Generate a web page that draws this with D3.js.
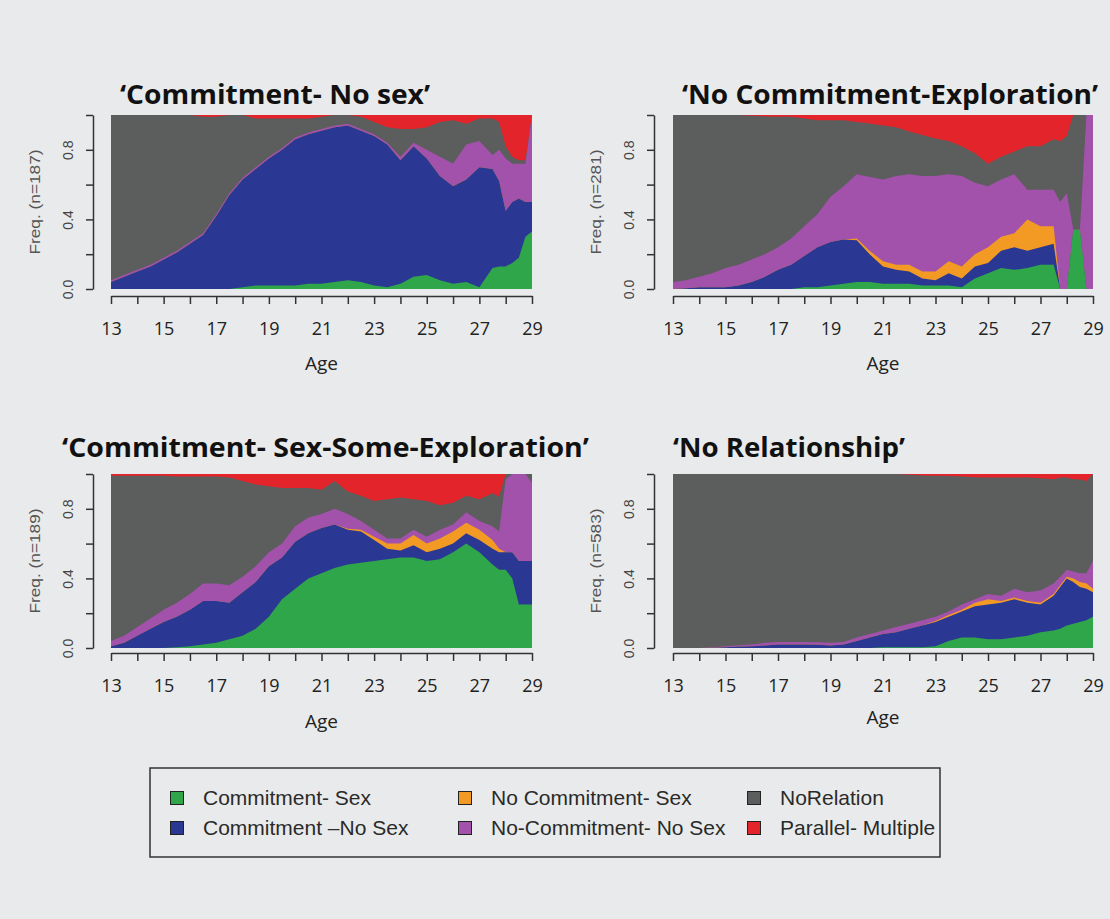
<!DOCTYPE html>
<html><head><meta charset="utf-8">
<script src="https://cdn.jsdelivr.net/npm/d3@7"></script>
<style>
html,body{margin:0;padding:0;background:#e9eaeb;}
svg{display:block;}
</style></head><body>
<svg id="chart" width="1110" height="919"></svg>
<script>
// ---------- data ----------
const ages = [13,13.5,14,14.5,15,15.5,16,16.5,17,17.5,18,18.5,19,19.5,20,20.5,21,21.5,22,22.5,23,23.5,24,24.5,25,25.5,26,26.5,27,27.5,27.75,28,28.25,28.5,28.75,29];
const states = ["Commitment- Sex","Commitment \u2013No Sex","No Commitment- Sex","No-Commitment- No Sex","NoRelation","Parallel- Multiple"];
const colors = ["#30a64a","#2a3893","#f39a25","#a252ab","#5c5d5d","#e3242b"];
const xTicks = [13,14,15,16,17,18,19,20,21,22,23,24,25,26,27,28,29];
const xLabels = [13,15,17,19,21,23,25,27,29];
const yTicks = [0,0.2,0.4,0.6,0.8,1];
const yLabels = ["0.0","0.4","0.8"];
const titles = ["\u2018Commitment- No sex\u2019","\u2018No Commitment-Exploration\u2019","\u2018Commitment- Sex-Some-Exploration\u2019","\u2018No Relationship\u2019"];
const yTitles = ["Freq. (n=187)","Freq. (n=281)","Freq. (n=189)","Freq. (n=583)"];

// Panel 1: 'Commitment- No sex'
const p1Green  = [0,0,0,0,0,0,0,0,0,0,.01,.02,.02,.02,.02,.03,.03,.04,.05,.04,.02,.01,.03,.07,.08,.05,.03,.04,.01,.12,.13,.13,.15,.18,.30,.33];
const p1Blue   = [.04,.07,.10,.13,.17,.21,.26,.31,.42,.54,.62,.67,.73,.78,.84,.86,.88,.89,.89,.87,.86,.82,.71,.75,.67,.60,.56,.59,.69,.57,.49,.32,.35,.34,.20,.17];
const p1Orange = [0,0,0,0,0,0,0,0,0,0,0,0,0,0,0,0,0,0,0,0,0,0,0,0,0,0,0,0,0,0,0,0,0,0,0,0];
const p1Purple = [.01,.01,.01,.01,.01,.01,.01,.01,.01,.01,.01,.01,.01,.01,.01,.01,.01,.01,.01,.01,.01,.01,.02,.02,.05,.11,.13,.20,.15,.08,.18,.30,.22,.20,.22,.50];
const p1Gray   = [.95,.92,.89,.86,.82,.78,.73,.67,.56,.45,.36,.28,.22,.17,.11,.08,.07,.06,.05,.07,.07,.09,.16,.08,.13,.20,.25,.12,.13,.21,.16,.07,.04,.02,.02,0];
const p1Red    = [0,0,0,0,0,0,0,.01,.01,0,0,.02,.02,.02,.02,.02,.01,0,0,.01,.04,.07,.08,.08,.07,.04,.03,.05,.02,.02,.04,.18,.24,.26,.26,0];

// Panel 2: 'No Commitment-Exploration'
const p2Green  = [0,0,0,0,0,0,0,0,0,0,.01,.01,.02,.03,.04,.04,.03,.03,.03,.02,.02,.02,.01,.06,.09,.12,.11,.12,.14,.14,0,0,.34,.34,0,0];
const p2Blue   = [0,.005,.01,.01,.01,.02,.04,.07,.11,.14,.18,.23,.25,.255,.24,.16,.10,.08,.07,.04,.03,.07,.05,.07,.06,.10,.13,.10,.10,.12,0,0,0,0,0,0];
const p2Orange = [0,0,0,0,0,0,0,0,0,0,0,0,0,0,.01,.02,.03,.03,.04,.04,.05,.07,.07,.07,.09,.08,.08,.18,.12,.10,0,0,0,0,0,0];
const p2Purple = [.04,.045,.06,.08,.11,.12,.13,.13,.13,.15,.17,.19,.26,.305,.37,.43,.47,.51,.52,.55,.55,.50,.52,.41,.35,.33,.34,.17,.21,.21,.50,.55,0,0,1,1];
const p2Gray   = [.96,.95,.93,.91,.88,.86,.825,.79,.75,.70,.62,.54,.44,.38,.30,.31,.31,.28,.245,.235,.215,.19,.17,.17,.13,.13,.13,.25,.25,.29,.35,.33,.66,.66,0,0];
const p2Red    = [0,0,0,0,0,0,.005,.008,.01,.01,.02,.03,.03,.03,.04,.05,.06,.07,.095,.115,.135,.15,.18,.22,.28,.24,.21,.18,.18,.14,.15,.12,0,0,0,0];

// Panel 3: 'Commitment- Sex-Some-Exploration'
const p3Green  = [0,0,0,0,0,.005,.01,.02,.03,.05,.07,.11,.18,.28,.34,.40,.43,.46,.48,.49,.50,.51,.52,.52,.50,.51,.55,.60,.55,.48,.45,.45,.40,.25,.25,.25];
const p3Blue   = [.01,.03,.07,.11,.15,.175,.21,.25,.24,.21,.25,.27,.29,.24,.27,.26,.26,.25,.20,.18,.12,.06,.04,.07,.05,.06,.05,.06,.07,.09,.10,.10,.15,.25,.25,.25];
const p3Orange = [0,0,0,0,0,0,0,0,0,0,0,0,0,0,0,0,0,0,.005,.01,.02,.03,.04,.06,.05,.06,.07,.06,.06,.05,.02,0,0,0,0,0];
const p3Purple = [.03,.04,.05,.06,.07,.08,.09,.10,.10,.10,.09,.09,.08,.08,.09,.09,.08,.09,.085,.05,.04,.03,.03,.03,.04,.05,.04,.06,.05,.08,.10,.42,.45,.50,.50,.45];
const p3Gray   = [.95,.92,.87,.82,.77,.725,.675,.615,.615,.62,.55,.47,.38,.32,.22,.17,.14,.16,.13,.145,.165,.225,.235,.175,.205,.14,.125,.095,.125,.19,.20,.03,0,0,0,.05];
const p3Red    = [.01,.01,.01,.01,.01,.015,.015,.015,.015,.02,.04,.06,.07,.08,.08,.08,.09,.04,.10,.125,.155,.145,.135,.145,.155,.18,.165,.125,.145,.11,.13,0,0,0,0,0];

// Panel 4: 'No Relationship'
const p4Green  = [0,0,0,0,0,0,0,0,0,0,0,0,0,0,0,0,.005,.005,.005,.005,.01,.04,.06,.06,.05,.05,.06,.07,.09,.10,.11,.13,.14,.15,.16,.18];
const p4Blue   = [0,0,0,.002,.005,.008,.01,.015,.02,.02,.02,.018,.015,.02,.04,.06,.075,.085,.105,.125,.14,.14,.15,.18,.20,.21,.22,.19,.16,.20,.24,.27,.24,.20,.18,.14];
const p4Orange = [0,0,0,0,0,0,0,0,0,0,0,0,0,0,0,0,0,0,0,0,.005,.01,.01,.02,.03,.01,.01,.01,.01,.01,.01,.01,.02,.03,.03,.02];
const p4Purple = [0,0,0,.003,.005,.008,.01,.015,.015,.015,.015,.015,.015,.015,.02,.02,.02,.03,.03,.03,.025,.02,.03,.02,.03,.03,.05,.05,.07,.06,.05,.04,.04,.05,.06,.16];
const p4Gray   = [1,1,1,.995,.99,.984,.98,.97,.965,.965,.965,.967,.97,.965,.94,.92,.90,.88,.855,.832,.81,.778,.735,.702,.67,.68,.64,.66,.645,.60,.57,.53,.53,.54,.53,.50];
const p4Red    = [0,0,0,0,0,0,0,0,0,0,0,0,0,0,0,0,0,0,.005,.008,.01,.012,.015,.018,.02,.02,.02,.02,.025,.03,.02,.02,.03,.03,.04,0];

const panelSeries = [
  [p1Green,p1Blue,p1Orange,p1Purple,p1Gray,p1Red],
  [p2Green,p2Blue,p2Orange,p2Purple,p2Gray,p2Red],
  [p3Green,p3Blue,p3Orange,p3Purple,p3Gray,p3Red],
  [p4Green,p4Blue,p4Orange,p4Purple,p4Gray,p4Red]
];

// ---------- layout ----------
const layout = [
  {left:111, right:532,  top:115, bottom:289, yAxisX:93,  xAxisY:296, titleX:120, titleY:104, titleW:310, ageY:363},
  {left:673, right:1093, top:115, bottom:289, yAxisX:654, xAxisY:296, titleX:682, titleY:104, titleW:416, ageY:363},
  {left:111, right:532,  top:474, bottom:648, yAxisX:93,  xAxisY:653, titleX:62,  titleY:457, titleW:527, ageY:721},
  {left:673, right:1093, top:474, bottom:648, yAxisX:654, xAxisY:653, titleX:673, titleY:457, titleW:232, ageY:717}
];

const svg = d3.select("#chart");
svg.append("rect").attr("width",1110).attr("height",919).attr("fill","#e9eaeb");

layout.forEach((p, pi) => {
  const x = d3.scaleLinear().domain([13,29]).range([p.left,p.right]);
  const y = d3.scaleLinear().domain([0,1]).range([p.bottom,p.top]);
  const series = panelSeries[pi];
  const rows = ages.map((a,i) => {
    const r = {age:a};
    states.forEach((s,k) => r[s] = series[k][i]);
    return r;
  });
  const stacked = d3.stack().keys(states).offset(d3.stackOffsetExpand)(rows);
  const g = svg.append("g");
  for (let k = stacked.length - 1; k >= 0; k--) {
    const area = d3.area()
      .x(d => x(d.data.age))
      .y0(y(0))
      .y1(d => y(d[1]))
      .curve(d3.curveLinear);
    g.append("path").datum(stacked[k]).attr("d", area).attr("fill", colors[k]);
  }

  // y axis
  const yAxis = d3.axisLeft(y).tickValues(yTicks).tickSize(7).tickSizeOuter(0)
    .tickFormat(d => yLabels.includes(d.toFixed(1)) ? d.toFixed(1) : "");
  const ga = svg.append("g").attr("transform", `translate(${p.yAxisX},0)`).call(yAxis);
  ga.select(".domain").attr("stroke","#333").attr("stroke-width",1.5);
  ga.selectAll(".tick line").attr("stroke","#333").attr("stroke-width",1.5);
  ga.selectAll(".tick text")
    .attr("transform","rotate(-90)").attr("x",0).attr("y",-20).attr("dy",0)
    .attr("text-anchor","middle")
    .attr("font-family","Liberation Sans, Arial, sans-serif").attr("font-size",14).attr("fill","#444");

  // x axis
  const xAxis = d3.axisBottom(x).tickValues(xTicks).tickSize(8).tickSizeOuter(0)
    .tickFormat(d => xLabels.includes(d) ? d : "");
  const gx = svg.append("g").attr("transform", `translate(0,${p.xAxisY})`).call(xAxis);
  gx.select(".domain").attr("stroke","#333").attr("stroke-width",1.5);
  gx.selectAll(".tick line").attr("stroke","#333").attr("stroke-width",1.5);
  gx.selectAll(".tick text").attr("y",33).attr("dy","0.35em")
    .attr("font-family","Open Sans, sans-serif").attr("font-size",18).attr("fill","#222");

  // axis titles
  svg.append("text").attr("x",(p.left+p.right)/2).attr("y",p.ageY).attr("dy","0.35em")
    .attr("text-anchor","middle").attr("font-family","Open Sans, sans-serif")
    .attr("font-size",19).attr("fill","#222").text("Age");
  svg.append("text")
    .attr("transform", `translate(${p.yAxisX-58},${(p.top+p.bottom)/2}) rotate(-90)`)
    .attr("text-anchor","middle").attr("dy","0.35em")
    .attr("font-family","Liberation Sans, Arial, sans-serif").attr("font-size",14)
    .attr("fill","#555").attr("textLength",105).attr("lengthAdjust","spacingAndGlyphs")
    .text(yTitles[pi]);

  // title
  svg.append("text").attr("x",p.titleX).attr("y",p.titleY)
    .attr("font-family","Open Sans, sans-serif").attr("font-weight",700).attr("font-size",26)
    .attr("fill","#111").attr("textLength",p.titleW).attr("lengthAdjust","spacingAndGlyphs")
    .text(titles[pi]);
});

// ---------- legend ----------
svg.append("rect").attr("x",150).attr("y",768).attr("width",790).attr("height",89)
  .attr("fill","none").attr("stroke","#333").attr("stroke-width",1.5);
const colX = [177,465,754];
const rowY = [798,828];
const lg = svg.append("g");
states.forEach((s,k) => {
  const cx = colX[Math.floor(k/2)], cy = rowY[k%2];
  lg.append("rect").attr("x",cx-6.5).attr("y",cy-6.5).attr("width",13).attr("height",13)
    .attr("fill",colors[k]).attr("stroke","#222").attr("stroke-width",1);
  lg.append("text").attr("x",cx+26).attr("y",cy).attr("dy","0.35em")
    .attr("font-family","Liberation Sans, Arial, sans-serif").attr("font-size",21)
    .attr("fill","#2a2a2a").text(s);
});
</script></body></html>
